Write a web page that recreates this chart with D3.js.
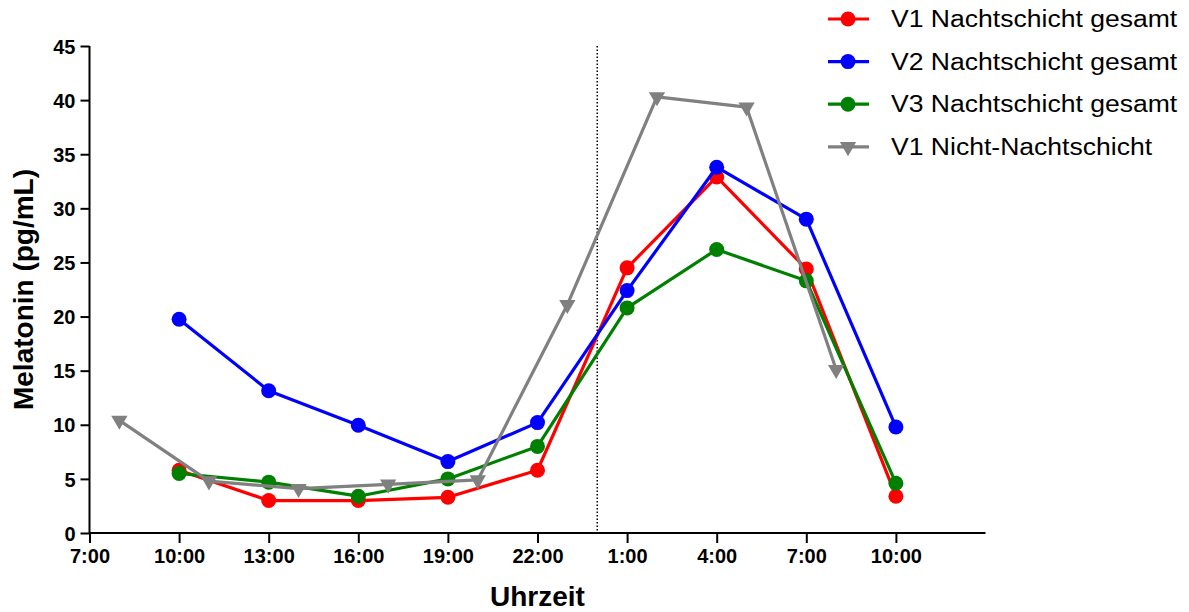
<!DOCTYPE html>
<html>
<head>
<meta charset="utf-8">
<script src="https://cdn.jsdelivr.net/npm/d3@7"></script>
<style>
  body { margin: 0; background: #fff; }
  svg { display: block; font-family: "Liberation Sans", Arial, sans-serif; }
</style>
</head>
<body>
<svg id="chart" width="1189" height="612"></svg>
<script>
// sampling times, hours after midnight of day 1 (25 = 1:00 next day)
var nightHours = [10, 13, 16, 19, 22, 25, 28, 31, 34];
var dayHours = [8, 11, 14, 17, 20, 23, 26, 29, 32];

var v1Night = [5.8, 3.0, 3.0, 3.3, 5.8, 24.5, 32.9, 24.4, 3.4];
var v2Night = [19.75, 13.15, 9.95, 6.6, 10.2, 22.4, 33.8, 29.0, 9.8];
var v3Night = [5.5, 4.7, 3.4, 5.0, 8.0, 20.8, 26.2, 23.3, 4.6];
var v1Day = [10.4, 4.8, 4.1, 4.5, 4.9, 21.1, 40.3, 39.35, 15.1];

var seriesNames = ["V1 Nachtschicht gesamt", "V2 Nachtschicht gesamt",
                   "V3 Nachtschicht gesamt", "V1 Nicht-Nachtschicht"];
var seriesColors = ["#ff0000", "#0000ff", "#008000", "#808080"];

var xTicks = [7, 10, 13, 16, 19, 22, 25, 28, 31, 34];
var yTicks = [0, 5, 10, 15, 20, 25, 30, 35, 40, 45];
var midnight = 24;

var series = [
  { name: seriesNames[0], color: seriesColors[0], x: nightHours, y: v1Night, shape: "circle" },
  { name: seriesNames[1], color: seriesColors[1], x: nightHours, y: v2Night, shape: "circle" },
  { name: seriesNames[2], color: seriesColors[2], x: nightHours, y: v3Night, shape: "circle" },
  { name: seriesNames[3], color: seriesColors[3], x: dayHours, y: v1Day, shape: "triangle" }
];

var svg = d3.select("#chart");

var x = d3.scaleLinear().domain([7, 37]).range([89.5, 985.5]);
var y = d3.scaleLinear().domain([0, 45]).range([533, 46]);

// axes
var xAxis = d3.axisBottom(x)
    .tickValues(xTicks)
    .tickSize(10)
    .tickPadding(4)
    .tickFormat(function(h) { return (h % 24) + ":00"; });

var yAxis = d3.axisLeft(y)
    .tickValues(yTicks)
    .tickSize(9)
    .tickPadding(5);

var gx = svg.append("g")
    .attr("transform", "translate(0," + y(0) + ")")
    .call(xAxis);

var gy = svg.append("g")
    .attr("transform", "translate(" + x(7) + ",0)")
    .call(yAxis);

[gx, gy].forEach(function(g) {
    g.select(".domain").attr("stroke", "#000").attr("stroke-width", 2);
    g.selectAll(".tick line").attr("stroke", "#000").attr("stroke-width", 2);
    g.selectAll(".tick text")
        .attr("fill", "#000")
        .style("font-size", "20px")
        .style("font-weight", "bold")
        .style("font-family", "'Liberation Sans', Arial, sans-serif");
});
gx.select(".domain").attr("d", "M" + x(7) + ",0H" + x(37));
gy.select(".domain").attr("d", "M0," + y(45) + "V" + y(0));
gx.selectAll(".tick text").attr("dy", "0.8em");
gy.selectAll(".tick text").attr("dy", "0.36em");

// midnight marker
svg.append("line")
    .attr("x1", x(midnight)).attr("x2", x(midnight))
    .attr("y1", y(45)).attr("y2", y(0))
    .attr("stroke", "#000")
    .attr("stroke-width", 1.5)
    .attr("stroke-dasharray", "1.5,2");

// axis titles
svg.append("text")
    .attr("x", (x(7) + x(37)) / 2)
    .attr("y", 606)
    .attr("text-anchor", "middle")
    .style("font-size", "28px")
    .style("font-weight", "bold")
    .text("Uhrzeit");

svg.append("text")
    .attr("transform", "translate(33," + (y(0) + y(45)) / 2 + ") rotate(-90)")
    .attr("text-anchor", "middle")
    .style("font-size", "28px")
    .style("font-weight", "bold")
    .text("Melatonin (pg/mL)");

// lines and markers
var line = d3.line()
    .x(function(d) { return x(d[0]); })
    .y(function(d) { return y(d[1]); });

var tri = d3.symbol().type(d3.symbolTriangle).size(115);

series.forEach(function(s) {
    var pts = s.x.map(function(h, i) { return [h, s.y[i]]; });
    var g = svg.append("g");
    g.append("path")
        .datum(pts)
        .attr("d", line)
        .attr("fill", "none")
        .attr("stroke", s.color)
        .attr("stroke-width", 3.2)
        .attr("stroke-linejoin", "round");
    if (s.shape == "circle") {
        g.selectAll("circle")
            .data(pts)
            .enter()
            .append("circle")
            .attr("cx", function(d) { return x(d[0]); })
            .attr("cy", function(d) { return y(d[1]); })
            .attr("r", 7.5)
            .attr("fill", s.color);
    } else {
        g.selectAll("path.mark")
            .data(pts)
            .enter()
            .append("path")
            .attr("class", "mark")
            .attr("d", tri)
            .attr("transform", function(d) {
                return "translate(" + x(d[0]) + "," + y(d[1]) + ") rotate(180)";
            })
            .attr("fill", s.color);
    }
});

// legend
var legend = svg.append("g").attr("transform", "translate(828,19)");
var rows = legend.selectAll("g")
    .data(series)
    .enter()
    .append("g")
    .attr("transform", function(d, i) { return "translate(0," + (i * 42.6) + ")"; });

rows.append("line")
    .attr("x1", 0).attr("x2", 41)
    .attr("stroke", function(d) { return d.color; })
    .attr("stroke-width", 3.2);

rows.each(function(d) {
    var r = d3.select(this);
    if (d.shape == "circle") {
        r.append("circle").attr("cx", 20).attr("r", 7.5).attr("fill", d.color);
    } else {
        r.append("path").attr("d", tri)
            .attr("transform", "translate(20,0) rotate(180)")
            .attr("fill", d.color);
    }
});

rows.append("text")
    .attr("transform", "translate(63,8) scale(1.13,1)")
    .style("font-size", "23.5px")
    .attr("fill", "#000")
    .text(function(d) { return d.name; });
</script>
</body>
</html>
